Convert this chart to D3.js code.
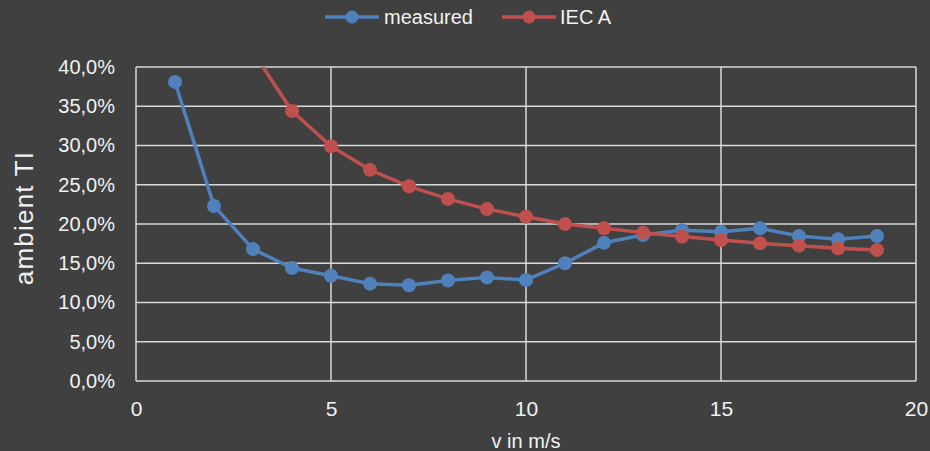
<!DOCTYPE html>
<html>
<head>
<meta charset="utf-8">
<script src="https://cdn.jsdelivr.net/npm/d3@7"></script>
<style>
  html, body { margin: 0; padding: 0; background: #404040; }
  svg { display: block; }
  text { font-family: "Liberation Sans", Arial, sans-serif; fill: #f2f2f2; }
</style>
</head>
<body>
<svg id="chart" width="930" height="451"></svg>
<script>
// Wind speed bins (m/s)
const speedsMeasured = [1, 2, 3, 4, 5, 6, 7, 8, 9, 10, 11, 12, 13, 14, 15, 16, 17, 18, 19];
// Measured ambient turbulence intensity per bin
const measured = [0.381, 0.223, 0.168, 0.144, 0.134, 0.124, 0.122, 0.128, 0.132, 0.1287, 0.150, 0.176, 0.186, 0.192, 0.190, 0.1945, 0.1847, 0.1805, 0.1847];
// IEC class A reference turbulence
const speedsIEC = [3, 4, 5, 6, 7, 8, 9, 10, 11, 12, 13, 14, 15, 16, 17, 18, 19];
const iecA = [0.419, 0.344, 0.299, 0.269, 0.248, 0.232, 0.219, 0.2093, 0.200, 0.1945, 0.189, 0.184, 0.1796, 0.1754, 0.1724, 0.169, 0.167];

const xTicks = [0, 5, 10, 15, 20];
const yTicks = [0, 0.05, 0.10, 0.15, 0.20, 0.25, 0.30, 0.35, 0.40];

const seriesNames = ["measured", "IEC A"];
const seriesColors = ["#4f81bd", "#c0504d"];

const svg = d3.select("#chart");
const margin = { left: 136, top: 67, right: 14, bottom: 70 };
const W = 930, H = 451;

const x = d3.scaleLinear().domain([0, 20]).range([margin.left, W - margin.right]);
const y = d3.scaleLinear().domain([0, 0.40]).range([H - margin.bottom, margin.top]);

const fmtPct = v => d3.format(".1f")(v * 100).replace(".", ",") + "%";

// clip for the plotting area
svg.append("defs").append("clipPath").attr("id", "plotClip")
  .append("rect")
  .attr("x", x(0)).attr("y", y(0.40))
  .attr("width", x(20) - x(0)).attr("height", y(0) - y(0.40));

// gridlines
const grid = svg.append("g");
grid.selectAll("line.h").data(yTicks).join("line")
  .attr("x1", x(0)).attr("x2", x(20))
  .attr("y1", d => y(d)).attr("y2", d => y(d))
  .attr("stroke", "#d9d9d9").attr("stroke-width", 1.5);
grid.selectAll("line.v").data(xTicks).join("line")
  .attr("y1", y(0)).attr("y2", y(0.40))
  .attr("x1", d => x(d)).attr("x2", d => x(d))
  .attr("stroke", "#d9d9d9").attr("stroke-width", 1.5);

// axes (labels only)
const yAxis = svg.append("g")
  .attr("transform", `translate(${x(0)},0)`)
  .call(d3.axisLeft(y).tickValues(yTicks).tickFormat(fmtPct).tickSize(0).tickPadding(21));
yAxis.select(".domain").remove();
yAxis.selectAll("text").style("font-size", "20px").attr("fill", "#f2f2f2");

const xAxis = svg.append("g")
  .attr("transform", `translate(0,${y(0)})`)
  .call(d3.axisBottom(x).tickValues(xTicks).tickFormat(d3.format("d")).tickSize(0).tickPadding(20));
xAxis.select(".domain").remove();
xAxis.selectAll("text").style("font-size", "21px").attr("fill", "#f2f2f2");

// axis titles
svg.append("text")
  .attr("transform", `translate(33,${(y(0) + y(0.40)) / 2 - 6}) rotate(-90)`)
  .attr("text-anchor", "middle")
  .style("font-size", "26px")
  .style("letter-spacing", "1.2px")
  .text("ambient TI");
svg.append("text")
  .attr("x", (x(0) + x(20)) / 2).attr("y", 448)
  .attr("text-anchor", "middle")
  .style("font-size", "20px")
  .text("v in m/s");

// series
const series = [
  { name: seriesNames[0], color: seriesColors[0], pts: speedsMeasured.map((s, i) => [s, measured[i]]) },
  { name: seriesNames[1], color: seriesColors[1], pts: speedsIEC.map((s, i) => [s, iecA[i]]) }
];
const line = d3.line().x(d => x(d[0])).y(d => y(d[1]));

const plot = svg.append("g").attr("clip-path", "url(#plotClip)");
series.forEach(s => {
  const g = plot.append("g");
  g.append("path").attr("d", line(s.pts))
    .attr("fill", "none").attr("stroke", s.color).attr("stroke-width", 3.5)
    .attr("stroke-linejoin", "round");
  g.selectAll("circle").data(s.pts.filter(d => d[1] <= 0.40)).join("circle")
    .attr("cx", d => x(d[0])).attr("cy", d => y(d[1])).attr("r", 7)
    .attr("fill", s.color);
});

// legend
const legendItems = [
  { name: seriesNames[0], color: seriesColors[0], x0: 325, tx: 384 },
  { name: seriesNames[1], color: seriesColors[1], x0: 502, tx: 560 }
];
const lg = svg.append("g");
legendItems.forEach(it => {
  lg.append("line").attr("x1", it.x0).attr("x2", it.x0 + 54).attr("y1", 17).attr("y2", 17)
    .attr("stroke", it.color).attr("stroke-width", 3.5);
  lg.append("circle").attr("cx", it.x0 + 27).attr("cy", 17).attr("r", 6.5).attr("fill", it.color);
  lg.append("text").attr("x", it.tx).attr("y", 17).attr("dy", "0.35em")
    .style("font-size", "20px").text(it.name);
});
</script>
</body>
</html>
